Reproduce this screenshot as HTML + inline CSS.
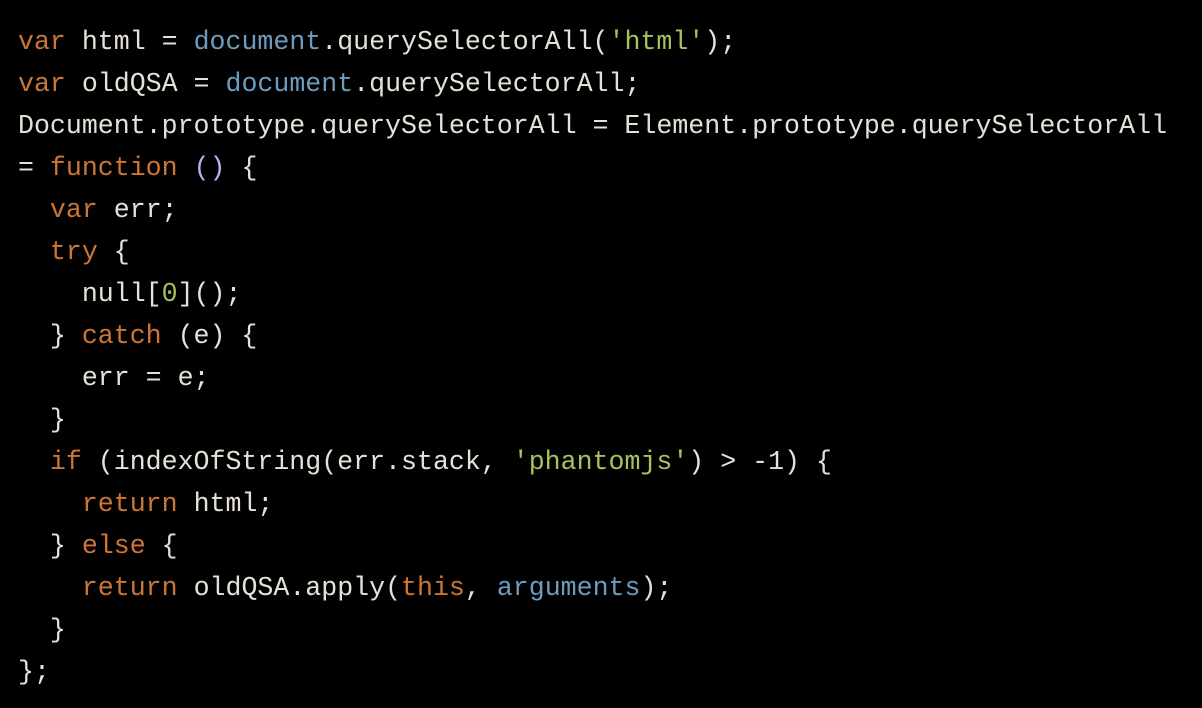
<!DOCTYPE html>
<html><head><meta charset="utf-8"><style>
html,body{margin:0;padding:0;background:#000;}
body{width:1202px;height:708px;overflow:hidden;}
pre{margin:0;padding:21px 0 0 18px;font-family:"Liberation Mono",monospace;font-size:26.6px;line-height:42px;color:#e6e1d8;}
.k{color:#cc7535}.b{color:#6d9cbe}.g{color:#a5c25c}.p{color:#b4b4ee}
</style></head><body><pre><span class="k">var</span> html = <span class="b">document</span>.querySelectorAll(<span class="g">'html'</span>);
<span class="k">var</span> oldQSA = <span class="b">document</span>.querySelectorAll;
Document.prototype.querySelectorAll = Element.prototype.querySelectorAll
= <span class="k">function</span> <span class="p">()</span> {
  <span class="k">var</span> err;
  <span class="k">try</span> {
    null[<span class="g">0</span>]();
  } <span class="k">catch</span> (e) {
    err = e;
  }
  <span class="k">if</span> (indexOfString(err.stack, <span class="g">'phantomjs'</span>) &gt; -1) {
    <span class="k">return</span> html;
  } <span class="k">else</span> {
    <span class="k">return</span> oldQSA.apply(<span class="k">this</span>, <span class="b">arguments</span>);
  }
};</pre></body></html>
